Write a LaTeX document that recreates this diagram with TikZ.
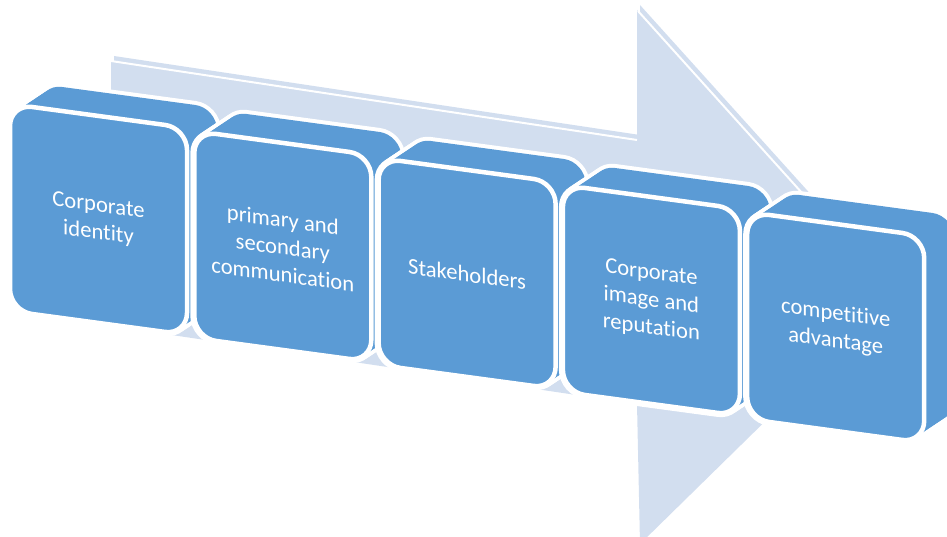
\documentclass[tikz,border=0pt]{standalone}
\usepackage{fontspec}
\setmainfont{Carlito}[Ligatures=NoCommon]
\definecolor{boxblue}{HTML}{5B9BD5}
\definecolor{arrowblue}{HTML}{D2DEEF}
\tikzset{
  txt/.style={text=white, align=center, font=\fontsize{22.6}{27.5}\selectfont, yslant=-0.135, inner sep=0pt},
  edgeline/.style={white, line width=2pt},
}
\newcommand\drawblk[4]{%
  \foreach \k in {0,...,12}{%
    \pgfmathsetmacro\xx{#1+30-2.5*\k}%
    \pgfmathsetmacro\yy{#2-20+(20/12)*\k}%
    \draw[white, line width=8pt, rounded corners=22pt] (\xx,\yy) -- ++(177,23.9) -- ++(0,207) -- ++(-177,-23.9) -- cycle;
  }%
  \foreach \k in {0,...,12}{%
    \pgfmathsetmacro\xx{#1+30-2.5*\k}%
    \pgfmathsetmacro\yy{#2-20+(20/12)*\k}%
    \fill[boxblue, rounded corners=22pt] (\xx,\yy) -- ++(177,23.9) -- ++(0,207) -- ++(-177,-23.9) -- cycle;
  }%
  \draw[white, line width=4.5pt, fill=boxblue, rounded corners=22pt] (#1,#2) -- ++(177,23.9) -- ++(0,207) -- ++(-177,-23.9) -- cycle;
  \node[txt] (#3) at (#1+88.5, #2+12.5+103.5) {#4};
}
\begin{document}
\begin{tikzpicture}[x=1pt,y=-1pt]
\useasboundingbox (0,0) rectangle (947,537);
\clip (0,0) rectangle (947,537);
% big background arrow (back and front face)
\fill[arrowblue] (114,56) -- (640,135) -- (640,5) -- (897,290) -- (643,539) -- (640,399) -- (114,321) -- cycle;
\fill[arrowblue] (111,61) -- (637,140) -- (637,10) -- (894,295) -- (640,544) -- (637,404) -- (111,326) -- cycle;
\coordinate (s1) at (111,61);
\coordinate (s2) at (637,140);
\coordinate (h1) at (638,11);
\coordinate (h2) at (894,295);
\draw[edgeline] (s1) -- (s2);
\draw[edgeline] (h1) -- (h2);
% blocks
\drawblk{10}{104}{b1}{Corporate\\identity}
\drawblk{194.3}{131}{b2}{primary and\\secondary\\communication}
\drawblk{378.6}{158}{b3}{Stakeholders}
\drawblk{562.9}{185}{b4}{Corporate\\image and\\reputation}
\drawblk{747.2}{212}{b5}{competitive\\advantage}
\end{tikzpicture}
\end{document}
